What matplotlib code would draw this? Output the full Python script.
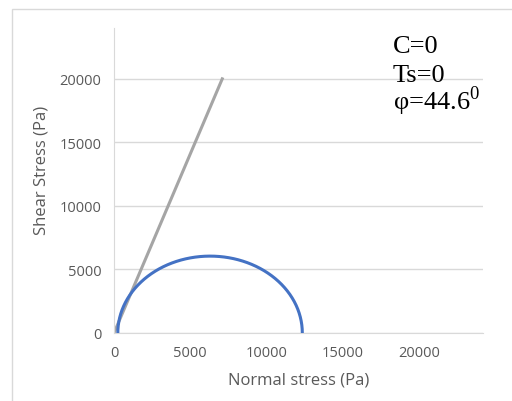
import matplotlib.pyplot as plt
from matplotlib.patches import Rectangle
import numpy as np

# 应力数据
sigma_3 = 250      # 最小主应力 (Pa)
sigma_1 = 12350    # 最大主应力 (Pa)
envelope_x = [0, 7100]
envelope_y = [0, 20000]
ticks = [0, 5000, 10000, 15000, 20000]
notes = ["C=0", "Ts=0", r"φ=44.6$^0$"]

plt.rcParams['font.family'] = ['Open Sans', 'DejaVu Sans']
plt.rcParams['mathtext.fontset'] = 'custom'
plt.rcParams['mathtext.rm'] = 'Liberation Serif'

fig = plt.figure(figsize=(5.12, 4.02), dpi=100)
fig.patches.append(Rectangle((12/512, -0.1), 1.2, 1.1 - 10/402, transform=fig.transFigure,
                             facecolor='white', edgecolor='#D9D9D9', linewidth=1, zorder=-1))
ax = fig.add_axes([114/512, 1 - 334/402, (483 - 114)/512, (334 - 29)/402])
ax.patch.set_alpha(0)

# 莫尔圆
c = (sigma_1 + sigma_3) / 2
r = (sigma_1 - sigma_3) / 2
t = np.linspace(0, np.pi, 300)
ax.plot(c + r*np.cos(t), r*np.sin(t), color='#4472C4', linewidth=2.2, zorder=3)
# 强度包线
ax.plot(envelope_x, envelope_y, color='#A5A5A5', linewidth=2.2, zorder=2)

ax.set_xlim(0, 24200)
ax.set_ylim(0, 24000)
ax.set_xticks(ticks)
ax.set_yticks(ticks)
ax.yaxis.grid(True, color='#D9D9D9', linewidth=1)
ax.set_axisbelow(True)
for s in ['top', 'right']:
    ax.spines[s].set_visible(False)
ax.spines['left'].set_color('#D9D9D9')
ax.spines['bottom'].set_color('#D9D9D9')
ax.tick_params(length=0, labelsize=10.5, colors='#595959', pad=9)
ax.set_xlabel("Normal stress (Pa)", fontsize=12, color='#595959', labelpad=8)
ax.set_ylabel("Shear Stress (Pa)", fontsize=12, color='#595959')
ax.yaxis.set_label_coords(-(114 - 49)/369, (334 - 170)/305)

for i, s in enumerate(notes):
    fig.text(393/512, 1 - (53 + i*28.5)/402, s, fontsize=19, family=['Liberation Serif', 'DejaVu Serif'],
             color='black', va='baseline')

fig.savefig('out.png', dpi=100)
